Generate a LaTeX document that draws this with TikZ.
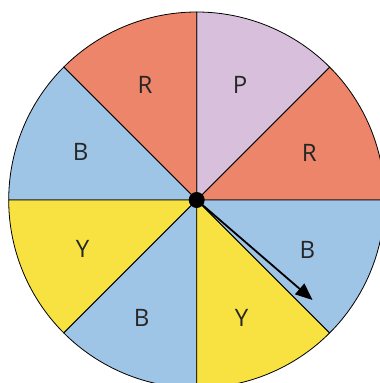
\documentclass[tikz,border=0pt]{standalone}
\usepackage{fontspec}
\setmainfont{Open Sans}
\usetikzlibrary{arrows.meta}
\definecolor{SpinRed}{RGB}{236,133,106}
\definecolor{SpinPurple}{RGB}{216,192,220}
\definecolor{SpinBlue}{RGB}{158,197,230}
\definecolor{SpinYellow}{RGB}{248,226,66}
\begin{document}
\begin{tikzpicture}[
    x=1pt, y=1pt,
    font=\fontsize{24}{24}\selectfont,
    wedge/.style={
        draw=black,
        line width=0.8pt
    },
    letter/.style={
        text=black!85,
        inner sep=0pt
    },
    hubdot/.style={
        circle,
        fill=black,
        inner sep=0pt,
        minimum size=16pt
    },
    pointer/.style={
        -{Triangle[length=17pt,width=14pt]},
        line width=1.8pt
    }
]

% frame of the picture, the wheel runs off the right and bottom edges
\useasboundingbox (0,0) rectangle (380,383);
\clip (0,0) rectangle (380,383);

\coordinate (hub) at (196.7,183);

% Eight coloured sectors
\foreach \a/\col in {0/SpinRed, 45/SpinPurple, 90/SpinRed, 135/SpinBlue,
                     180/SpinYellow, 225/SpinBlue, 270/SpinYellow, 315/SpinBlue}
    \filldraw[wedge, fill=\col] (hub) -- ++(\a:188)
        arc[start angle=\a, end angle=\a+45, radius=188] -- cycle;

% Sector letters
\foreach \x/\y/\t [count=\i] in {309.3/230.3/R, 240/298/P, 145/298/R, 80.7/231.3/B,
                                 82.7/133.7/Y, 141.7/64.7/B, 241.7/64.7/Y, 307.3/133/B}
    \node[letter] (lbl\i) at (\x,\y) {\t};

% Centre pin and pointer
\node[hubdot] (pin) at (hub) {};
\coordinate (tip) at ([shift={(-40.8:153)}]hub);
\draw[pointer] (pin.center) -- (tip);

\end{tikzpicture}
\end{document}
